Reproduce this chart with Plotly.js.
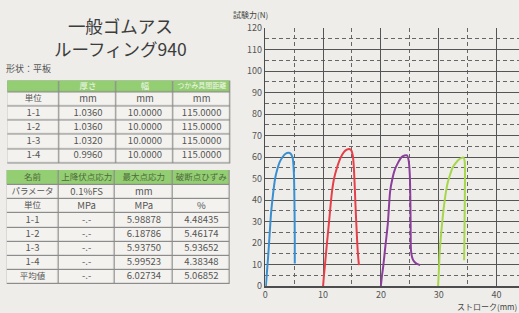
<!DOCTYPE html>
<html>
<head>
<meta charset="utf-8">
<script src="https://cdn.plot.ly/plotly-3.0.1.min.js"></script>
<style>
html,body{margin:0;padding:0;background:#eeede9;}
#chart{width:519px;height:313px;}
</style>
</head>
<body>
<div id="chart"></div>
<script>
// ---- data ----
const seriesNames = ['1-1', '1-2', '1-3', '1-4'];
const s1x = [0.1, 0.3, 0.5, 0.75, 1.0, 1.35, 1.7, 2.1, 2.5, 3.0, 3.5, 4.0, 4.4, 4.75, 4.95, 5.05, 5.1, 5.1];
const s1y = [0, 7, 14, 24, 34, 43, 50, 54.5, 57.7, 60, 61.5, 62, 61.5, 59.4, 52, 38, 22, 10.5];
const s2x = [10.0, 10.15, 10.3, 10.6, 11.0, 11.5, 11.9, 12.4, 13.0, 13.6, 14.1, 14.5, 14.9, 15.15, 15.3, 15.45, 15.6, 15.8, 16.0, 16.2];
const s2y = [0, 5, 9, 18, 29, 43, 50, 55, 59.5, 62.3, 63.4, 63.7, 63, 60.5, 56, 48, 38, 26, 16, 9.7];
const s3x = [20.0, 20.2, 20.4, 20.8, 21.2, 21.6, 22.0, 22.4, 23.0, 23.6, 24.1, 24.5, 24.8, 25.0, 25.1, 25.15, 25.2, 25.35, 25.6, 26.1, 26.8];
const s3y = [0, 5, 9, 19, 29, 44, 50, 54, 57.5, 60, 60.7, 60.8, 58.5, 52, 40, 28, 17, 14, 12, 10.5, 9.7];
const s4x = [29.9, 30.05, 30.2, 30.45, 30.7, 31.0, 31.3, 31.6, 32.0, 32.4, 32.9, 33.5, 34.0, 34.3, 34.5, 34.55, 34.5, 34.45, 34.4];
const s4y = [0, 8, 16.7, 25, 32, 39, 44.5, 48.5, 52, 55, 57, 58.8, 59.6, 59.7, 58, 50, 35, 22, 12];

const t1Header = ['', '厚さ', '幅', 'つかみ具間距離'];
const t1Rows = [
  ['単位', 'mm', 'mm', 'mm'],
  ['1-1', '1.0360', '10.0000', '115.0000'],
  ['1-2', '1.0360', '10.0000', '115.0000'],
  ['1-3', '1.0320', '10.0000', '115.0000'],
  ['1-4', '0.9960', '10.0000', '115.0000']
];
const t2Header = ['名前', '上降伏点応力', '最大点応力', '破断点ひずみ'];
const t2Rows = [
  ['パラメータ', '0.1%FS', 'mm', ''],
  ['単位', 'MPa', 'MPa', '%'],
  ['1-1', '-.-', '5.98878', '4.48435'],
  ['1-2', '-.-', '6.18786', '5.46174'],
  ['1-3', '-.-', '5.93750', '5.93652'],
  ['1-4', '-.-', '5.99523', '4.38348'],
  ['平均値', '-.-', '6.02734', '5.06852']
];

const titleText = '一般ゴムアス<br>ルーフィング940';
const shapeLabel = '形状：平板';
const yTitle = '試験力(N)';
const xTitle = 'ストローク(mm)';

// ---- layout geometry (pixels, page-space axis x2/y2) ----
const W = 519, H = 313;
const t1ColEdges = [7.3, 59.3, 116.7, 173.3, 230];
const t1RowEdges = [80.5, 92.3, 106.4, 120.6, 134.8, 149, 163.2];
const t2ColEdges = [6.7, 58.3, 115, 172.7, 230];
const t2RowEdges = [170, 185.3, 199.3, 213.4, 227.5, 241.5, 255.5, 269.6, 283.6];

// ---- styles ----
const colors = ['#3a8fd0', '#e4404a', '#8b3f9b', '#a6d64c'];
const FONT = '"Noto Sans CJK JP", "Noto Sans", sans-serif';
const BG = '#eeede9';
const px = v => v / W;
const py = v => 1 - v / H;

const curves = [[s1x, s1y], [s2x, s2y], [s3x, s3y], [s4x, s4y]].map((d, i) => ({
  type: 'scatter', mode: 'lines', name: seriesNames[i],
  x: d[0], y: d[1], xaxis: 'x', yaxis: 'y',
  line: {color: colors[i], width: 2, shape: 'spline', smoothing: 0.7},
  hoverinfo: 'skip', showlegend: false
}));

function mid(e) { const m = []; for (let i = 0; i < e.length - 1; i++) m.push((e[i] + e[i + 1]) / 2); return m; }
const isNum = s => /^[0-9.\-%]/.test(s) || s === 'mm' || s === 'MPa';

function tableTraces(header, rows, colEdges, rowEdges, headerColor) {
  const all = [header].concat(rows);
  const z = all.map((r, ri) => r.map(() => ri === 0 ? 1 : 0));
  const zGrey = all.map(r => r.map(() => 0));
  const border = {
    type: 'heatmap', xaxis: 'x2', yaxis: 'y2', x: colEdges, y: rowEdges, z: zGrey,
    colorscale: [[0, '#8c8c8c'], [1, '#8c8c8c']], zmin: 0, zmax: 1, showscale: false, hoverinfo: 'skip'
  };
  const fill = {
    type: 'heatmap', xaxis: 'x2', yaxis: 'y2', x: colEdges, y: rowEdges, z: z,
    colorscale: [[0, '#f3f2ee'], [1, '#94ce72']], zmin: 0, zmax: 1, showscale: false,
    xgap: 1.2, ygap: 1.2, hoverinfo: 'skip'
  };
  const cx = mid(colEdges), cy = mid(rowEdges);
  const tx = [], ty = [], tt = [], tc = [], ts = [];
  all.forEach((r, ri) => r.forEach((s, ci) => {
    tx.push(cx[ci]); ty.push(cy[ri]); tt.push(s);
    if (ri === 0) { tc.push(headerColor); ts.push(s.length >= 7 ? 7 : 8.5); }
    else { tc.push('#555555'); ts.push(isNum(s) ? 9.5 : 8.5); }
  }));
  const text = {
    type: 'scatter', mode: 'text', xaxis: 'x2', yaxis: 'y2', x: tx, y: ty, text: tt,
    textposition: 'middle center', textfont: {family: FONT, size: ts, color: tc},
    hoverinfo: 'skip', showlegend: false, cliponaxis: false
  };
  return [border, fill, text];
}

const tables = tableTraces(t1Header, t1Rows, t1ColEdges, t1RowEdges, '#f2f8ec')
  .concat(tableTraces(t2Header, t2Rows, t2ColEdges, t2RowEdges, '#4d6a3c'));

const gridCommon = {
  showgrid: true, gridcolor: '#555555', gridwidth: 1,
  minor: {dtick: 5, showgrid: true, gridcolor: '#666666', gridwidth: 1, griddash: '4px,3px'},
  zeroline: false, showline: true, linecolor: '#4d4d4d', linewidth: 1.5,
  ticks: '', tickfont: {family: FONT, size: 9, color: '#555'}, fixedrange: true
};

const layout = {
  width: W, height: H,
  margin: {l: 0, r: 0, t: 0, b: 0},
  paper_bgcolor: BG,
  plot_bgcolor: 'rgba(0,0,0,0)',
  showlegend: false,
  xaxis: Object.assign({domain: [px(265.3), 1], range: [0, 43.9], tick0: 0, dtick: 10, anchor: 'y'}, gridCommon),
  yaxis: Object.assign({domain: [27 / H, 1 - 28 / H], range: [0, 120], tick0: 0, dtick: 10, anchor: 'x', mirror: true}, gridCommon),
  xaxis2: {domain: [0, 1], range: [0, W], visible: false, anchor: 'y2', fixedrange: true},
  yaxis2: {domain: [0, 1], range: [H, 0], visible: false, anchor: 'x2', fixedrange: true},
  annotations: [
    {text: titleText, x: px(120), y: py(37), xref: 'paper', yref: 'paper', showarrow: false, align: 'center',
     xanchor: 'center', yanchor: 'middle', font: {family: FONT, size: 17.5, color: '#3c3c3c'}},
    {text: shapeLabel, x: px(4), y: py(69), xref: 'paper', yref: 'paper', showarrow: false,
     xanchor: 'left', yanchor: 'middle', font: {family: FONT, size: 9, color: '#555'}},
    {text: yTitle, x: px(231), y: py(15), xref: 'paper', yref: 'paper', showarrow: false,
     xanchor: 'left', yanchor: 'middle', font: {family: FONT, size: 8, color: '#444'}},
    {text: xTitle, x: px(455), y: py(306), xref: 'paper', yref: 'paper', showarrow: false,
     xanchor: 'left', yanchor: 'middle', font: {family: FONT, size: 8, color: '#444'}}
  ]
};

Plotly.newPlot('chart', curves.concat(tables), layout, {staticPlot: true, displayModeBar: false});
</script>
</body>
</html>
